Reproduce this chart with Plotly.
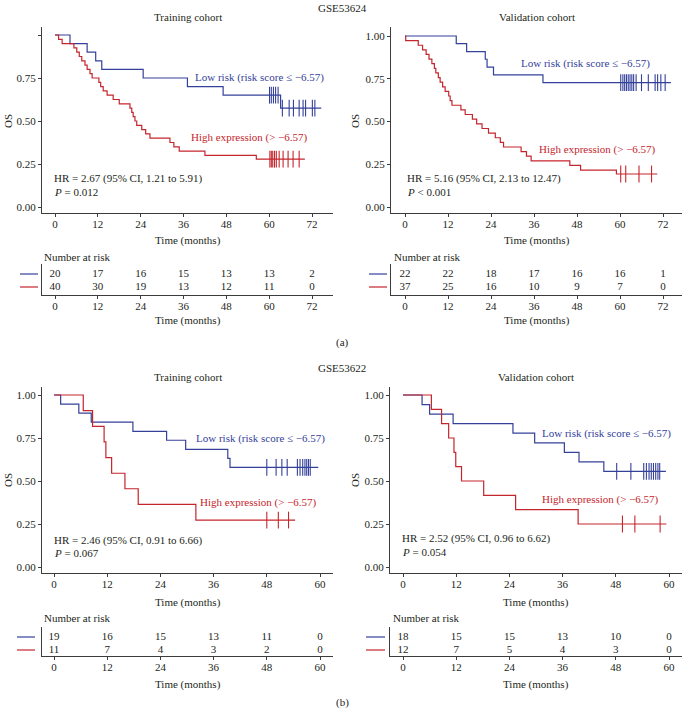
import plotly.graph_objects as go

W, H = 684, 711
BLUE = "#34419A"
RED = "#C5252C"
INK = "#231F20"
AXC = "#3C3C3C"
FONT = "Liberation Serif, Times New Roman, DejaVu Serif, serif"

# ---------------- data ----------------
# GSE53624 training cohort
tl_low_t = [4.2, 9.0, 11.4, 13.1, 24.7, 37.1, 47.1, 63.2]
tl_low_s = [0.95, 0.90, 0.85, 0.80, 0.75, 0.70, 0.65, 0.575]
tl_low_cens = [60.1, 60.6, 61.2, 61.8, 62.5, 63.7, 65.6, 66.8, 68.4, 69.5, 70.2, 72.1, 72.8]
tl_low_end = 74.6
tl_high_t = [1.0, 2.0, 5.3, 6.1, 6.8, 7.5, 8.4, 9.0, 9.8, 10.4, 12.3, 12.8, 13.5, 14.6, 16.3,
             18.0, 21.0, 21.5, 21.9, 22.4, 22.9, 24.3, 25.4, 26.6, 32.2, 33.3, 34.8, 42.0, 56.4]
tl_high_s = [0.975, 0.95, 0.925, 0.90, 0.875, 0.85, 0.825, 0.80, 0.775, 0.75, 0.725, 0.70, 0.675,
             0.65, 0.625, 0.60, 0.575, 0.55, 0.525, 0.50, 0.475, 0.45, 0.425, 0.40, 0.375, 0.35,
             0.325, 0.30, 0.278]
tl_high_cens = [60.2, 60.6, 61.0, 61.5, 62.0, 62.8, 63.9, 65.3, 66.7, 68.4]
tl_high_end = 70.0

# GSE53624 validation cohort
tr_low_t = [14.3, 17.2, 22.4, 22.9, 24.7, 38.5]
tr_low_s = [0.955, 0.909, 0.864, 0.818, 0.773, 0.727]
tr_low_cens = [60.2, 60.8, 61.3, 61.8, 62.3, 62.8, 63.3, 63.8, 64.5, 66.0, 67.9, 69.8, 70.5, 71.4, 72.6]
tr_low_end = 74.2
tr_high_t = [0.2, 3.7, 4.9, 5.9, 6.7, 7.5, 8.2, 8.6, 9.3, 9.8, 10.5, 11.2, 12.2, 12.6, 13.1, 15.6,
             16.8, 18.8, 20.0, 21.5, 23.3, 25.2, 26.6, 27.5, 32.4, 33.9, 35.2, 46.0, 49.0, 59.0]
tr_high_s = [0.973, 0.946, 0.919, 0.892, 0.865, 0.838, 0.811, 0.784, 0.757, 0.730, 0.703, 0.676,
             0.649, 0.622, 0.595, 0.568, 0.541, 0.514, 0.486, 0.459, 0.432, 0.405, 0.378, 0.351,
             0.324, 0.297, 0.270, 0.243, 0.216, 0.193]
tr_high_cens = [60.2, 61.6, 65.3, 68.8]
tr_high_end = 70.4

# GSE53622 training cohort
bl_low_t = [1.5, 5.6, 8.4, 17.8, 25.4, 29.7, 39.2, 39.7]
bl_low_s = [0.947, 0.895, 0.842, 0.789, 0.737, 0.684, 0.632, 0.579]
bl_low_cens = [48.0, 50.1, 51.4, 52.6, 54.9, 55.5, 56.1, 56.6, 57.0, 57.4, 57.8]
bl_low_end = 59.6
bl_high_t = [6.6, 8.7, 11.3, 11.7, 13.0, 16.0, 19.0, 32.0]
bl_high_s = [0.909, 0.818, 0.727, 0.636, 0.545, 0.455, 0.364, 0.273]
bl_high_cens = [48.0, 50.6, 52.9]
bl_high_end = 54.4

# GSE53622 validation cohort
br_low_t = [4.3, 6.0, 11.3, 24.8, 29.7, 36.4, 39.7, 45.3]
br_low_s = [0.944, 0.889, 0.833, 0.778, 0.722, 0.667, 0.611, 0.556]
br_low_cens = [48.2, 51.4, 54.3, 54.9, 55.5, 56.0, 56.5, 57.0, 57.5, 57.9]
br_low_end = 59.3
br_high_t = [6.4, 8.7, 10.3, 11.5, 11.9, 13.2, 18.2, 25.4, 39.5]
br_high_s = [0.917, 0.833, 0.75, 0.667, 0.583, 0.5, 0.417, 0.333, 0.25]
br_high_cens = [49.5, 52.3, 58.0]
br_high_end = 59.4

# numbers at risk
ticks_72 = [0, 12, 24, 36, 48, 60, 72]
ticks_60 = [0, 12, 24, 36, 48, 60]
tl_risk_low = [20, 17, 16, 15, 13, 13, 2]
tl_risk_high = [40, 30, 19, 13, 12, 11, 0]
tr_risk_low = [22, 22, 18, 17, 16, 16, 1]
tr_risk_high = [37, 25, 16, 10, 9, 7, 0]
bl_risk_low = [19, 16, 15, 13, 11, 0]
bl_risk_high = [11, 7, 4, 3, 2, 0]
br_risk_low = [18, 15, 15, 13, 10, 0]
br_risk_high = [12, 7, 5, 4, 3, 0]

low_label = "Low risk (risk score ≤ −6.57)"
high_label = "High expression (> −6.57)"
hr_texts = ["HR = 2.67 (95% CI, 1.21 to 5.91)", "HR = 5.16 (95% CI, 2.13 to 12.47)",
            "HR = 2.46 (95% CI, 0.91 to 6.66)", "HR = 2.52 (95% CI, 0.96 to 6.62)"]
p_texts = ["<i>P</i> = 0.012", "<i>P</i> &lt; 0.001", "<i>P</i> = 0.067", "<i>P</i> = 0.054"]

# ---------------- helpers ----------------
def dom_x(a, b):
    return [a / W, b / W]

def dom_y(top, bottom):
    return [1 - bottom / H, 1 - top / H]

def rng(a, b, p0, v0, p1, v1):
    s = (p1 - p0) / (v1 - v0)
    return [v0 + (a - p0) / s, v0 + (b - p0) / s]

def surv_at(t, times, surv):
    v = 1.0
    for ti, si in zip(times, surv):
        if ti <= t:
            v = si
    return v

ax_common = dict(showline=True, linecolor=AXC, linewidth=1, ticks="outside", ticklen=3,
                 tickwidth=1, tickcolor=AXC, showgrid=False, zeroline=False,
                 tickfont=dict(family=FONT, size=11, color=INK), fixedrange=True)

panels = [
    dict(title="Training cohort", xdom=(42, 333), ydom=(27, 213), x0p=55, x1p=312, xmax=72,
         y1p=35, y0p=207, ticks=ticks_72, show100=False,
         low=(tl_low_t, tl_low_s, tl_low_cens, tl_low_end),
         high=(tl_high_t, tl_high_s, tl_high_cens, tl_high_end),
         risk=(tl_risk_low, tl_risk_high), tdom=(264, 295), rows=(274, 287),
         lowlab=(259, 77), highlab=(249, 138), hr=(52, 178, 192), os=(8, 121),
         time1=240, nar=(42, 257), time2=320, seg=(20, 38), ttl_y=17),
    dict(title="Validation cohort", xdom=(391, 682), ydom=(27, 213), x0p=405, x1p=663, xmax=72,
         y1p=36, y0p=207, ticks=ticks_72, show100=True,
         low=(tr_low_t, tr_low_s, tr_low_cens, tr_low_end),
         high=(tr_high_t, tr_high_s, tr_high_cens, tr_high_end),
         risk=(tr_risk_low, tr_risk_high), tdom=(264, 295), rows=(274, 287),
         lowlab=(585, 63), highlab=(597, 150), hr=(405, 178, 192), os=(355, 121),
         time1=240, nar=(392, 257), time2=320, seg=(369, 387), ttl_y=17),
    dict(title="Training cohort", xdom=(42, 333), ydom=(387, 573), x0p=54, x1p=320, xmax=60,
         y1p=395, y0p=567, ticks=ticks_60, show100=True,
         low=(bl_low_t, bl_low_s, bl_low_cens, bl_low_end),
         high=(bl_high_t, bl_high_s, bl_high_cens, bl_high_end),
         risk=(bl_risk_low, bl_risk_high), tdom=(627, 656), rows=(637, 650),
         lowlab=(260, 438), highlab=(258, 502), hr=(52, 540, 553), os=(8, 480),
         time1=602, nar=(42, 618), time2=684, seg=(17, 35), ttl_y=377),
    dict(title="Validation cohort", xdom=(390, 682), ydom=(387, 573), x0p=403, x1p=669, xmax=60,
         y1p=395, y0p=567, ticks=ticks_60, show100=True,
         low=(br_low_t, br_low_s, br_low_cens, br_low_end),
         high=(br_high_t, br_high_s, br_high_cens, br_high_end),
         risk=(br_risk_low, br_risk_high), tdom=(627, 656), rows=(637, 650),
         lowlab=(606, 433), highlab=(600, 499), hr=(400, 538, 552), os=(355, 480),
         time1=602, nar=(391, 618), time2=684, seg=(366, 385), ttl_y=377),
]

fig = go.Figure()
layout = dict(width=W, height=H, margin=dict(l=0, r=0, t=0, b=0), paper_bgcolor="white",
              plot_bgcolor="white", showlegend=False,
              font=dict(family=FONT, size=11, color=INK))
annotations = []
shapes = []

def ann(text, x, y, xanchor="center", size=11, color=INK, angle=0):
    annotations.append(dict(text=text, x=x / W, y=1 - y / H, xref="paper", yref="paper",
                            xanchor=xanchor, yanchor="middle", showarrow=False,
                            textangle=angle, font=dict(family=FONT, size=size, color=color)))

for i, p in enumerate(panels):
    k = i + 1          # KM axes index
    kt = i + 5         # table axes index
    xn = "xaxis" if k == 1 else f"xaxis{k}"
    yn = "yaxis" if k == 1 else f"yaxis{k}"
    xr = "x" if k == 1 else f"x{k}"
    yr = "y" if k == 1 else f"y{k}"
    xrange = rng(p["xdom"][0], p["xdom"][1], p["x0p"], 0, p["x1p"], p["xmax"])
    yrange = rng(p["ydom"][1], p["ydom"][0], p["y0p"], 0, p["y1p"], 1)
    layout[xn] = dict(ax_common, domain=dom_x(*p["xdom"]), range=xrange, anchor=yr,
                      tickvals=p["ticks"], ticktext=[str(v) for v in p["ticks"]],
                      ticklabelstandoff=-2)
    layout[yn] = dict(ax_common, domain=dom_y(*p["ydom"]), range=yrange, anchor=xr,
                      tickvals=[0, 0.25, 0.5, 0.75, 1.0],
                      ticktext=["0.00", "0.25", "0.50", "0.75", "1.00" if p["show100"] else ""])
    # KM curves
    for (times, surv, cens, end), col in ((p["low"], BLUE), (p["high"], RED)):
        fig.add_trace(go.Scatter(x=[0] + times + [end], y=[1.0] + surv + [surv[-1]],
                                 mode="lines", line=dict(color=col, width=1.2, shape="hv"),
                                 xaxis=xr, yaxis=yr, hoverinfo="skip"))
        fig.add_trace(go.Scatter(x=cens, y=[surv_at(c, times, surv) for c in cens],
                                 mode="markers",
                                 marker=dict(symbol="line-ns-open", size=12, color=col,
                                             line=dict(color=col, width=1.1)),
                                 xaxis=xr, yaxis=yr, hoverinfo="skip"))
    # risk table axes
    txn, tyn = f"xaxis{kt}", f"yaxis{kt}"
    txr, tyr = f"x{kt}", f"y{kt}"
    trange = rng(p["tdom"][1], p["tdom"][0], p["rows"][1], 1, p["rows"][0], 2)
    layout[txn] = dict(ax_common, domain=dom_x(*p["xdom"]), range=xrange, anchor=tyr,
                       tickvals=p["ticks"], ticktext=[str(v) for v in p["ticks"]],
                       ticklabelstandoff=-2)
    layout[tyn] = dict(ax_common, domain=dom_y(*p["tdom"]), range=trange, anchor=txr,
                       ticks="", showticklabels=False)
    low_r, high_r = p["risk"]
    fig.add_trace(go.Scatter(x=p["ticks"], y=[2] * len(p["ticks"]), mode="text",
                             text=[str(v) for v in low_r],
                             textfont=dict(family=FONT, size=11, color=INK),
                             xaxis=txr, yaxis=tyr, hoverinfo="skip"))
    fig.add_trace(go.Scatter(x=p["ticks"], y=[1] * len(p["ticks"]), mode="text",
                             text=[str(v) for v in high_r],
                             textfont=dict(family=FONT, size=11, color=INK),
                             xaxis=txr, yaxis=tyr, hoverinfo="skip"))
    # legend segments for table rows
    for row_y, col in ((p["rows"][0], BLUE), (p["rows"][1], RED)):
        shapes.append(dict(type="line", xref="paper", yref="paper",
                           x0=p["seg"][0] / W, x1=p["seg"][1] / W,
                           y0=1 - row_y / H, y1=1 - row_y / H,
                           line=dict(color=col, width=1.2)))
    # texts
    cx = (p["xdom"][0] + p["xdom"][1]) / 2
    ann(p["title"], cx, p["ttl_y"])
    ann(low_label, p["lowlab"][0], p["lowlab"][1], color=BLUE)
    ann(high_label, p["highlab"][0], p["highlab"][1], color=RED)
    ann(hr_texts[i], p["hr"][0], p["hr"][1], xanchor="left")
    ann(p_texts[i], p["hr"][0], p["hr"][2], xanchor="left")
    ann("OS", p["os"][0], p["os"][1], angle=-90)
    ann("Time (months)", cx, p["time1"])
    ann("Number at risk", p["nar"][0], p["nar"][1], xanchor="left")
    ann("Time (months)", cx, p["time2"])

ann("GSE53624", 342, 8)
ann("GSE53622", 342, 368)
ann("(a)", 342, 342)
ann("(b)", 342, 702)

layout["annotations"] = annotations
layout["shapes"] = shapes
fig.update_layout(**layout)
fig.write_html("out.html", config={"displayModeBar": False},
               post_script="document.body.style.margin='0';")
